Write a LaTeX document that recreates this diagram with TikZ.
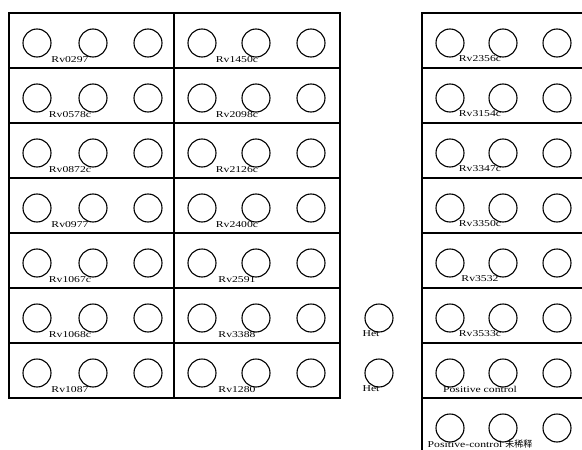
\documentclass[tikz,border=0pt]{standalone}
\usepackage{fontspec}
\setmainfont{Liberation Serif}
\newfontfamily\labelfont[FakeStretch=1.3]{Liberation Serif}
\newfontfamily\cjk{Noto Sans CJK SC}

\begin{document}
\begin{tikzpicture}[
    x=1pt, y=-1pt,
    well/.style={circle, draw=black, line width=1.1pt, minimum size=28pt, inner sep=0pt},
    gene/.style={font=\labelfont\fontsize{9}{9}\selectfont, inner sep=0pt},
    strip/.style={draw=black, line width=1.1pt}
]
\useasboundingbox (0,0) rectangle (582,450);

% Left column of strips
\foreach \name [count=\i, evaluate=\i as \top using 13+55*(\i-1)] in
    {Rv0297, Rv0578c, Rv0872c, Rv0977, Rv1067c, Rv1068c, Rv1087} {
  \draw[strip] (9,\top) rectangle (174,\top+55);
  \node[well] (a\i-1) at (37,\top+30) {};
  \node[well] (a\i-2) at (93,\top+30) {};
  \node[well] (a\i-3) at (148,\top+30) {};
  \node[gene] (a\i-t) at (70,\top+47) {\name};
}

% Middle column of strips
\foreach \name [count=\i, evaluate=\i as \top using 13+55*(\i-1)] in
    {Rv1450c, Rv2098c, Rv2126c, Rv2400c, Rv2591, Rv3388, Rv1280} {
  \draw[strip] (174,\top) rectangle (340,\top+55);
  \node[well] (b\i-1) at (202,\top+30) {};
  \node[well] (b\i-2) at (256,\top+30) {};
  \node[well] (b\i-3) at (311,\top+30) {};
  \node[gene] (b\i-t) at (237,\top+47) {\name};
}

% Het wells
\node[well] (het1) at (379,318) {};
\node[gene] (het1-t) at (371,334) {Het};
\node[well] (het2) at (379,373) {};
\node[gene] (het2-t) at (371,389) {Het};

% Right column of strips
\foreach \name [count=\i, evaluate=\i as \top using 13+55*(\i-1)] in
    {Rv2356c, Rv3154c, Rv3347c, Rv3350c, Rv3532, Rv3533c,
     Positive control, {Positive-control {\cjk 未稀释}}} {
  \draw[strip] (422,\top) rectangle (600,\top+55);
  \node[well] (c\i-1) at (450,\top+30) {};
  \node[well] (c\i-2) at (503,\top+30) {};
  \node[well] (c\i-3) at (557,\top+30) {};
  \node[gene] (c\i-t) at (480,\top+46) {\name};
}

\end{tikzpicture}
\end{document}
